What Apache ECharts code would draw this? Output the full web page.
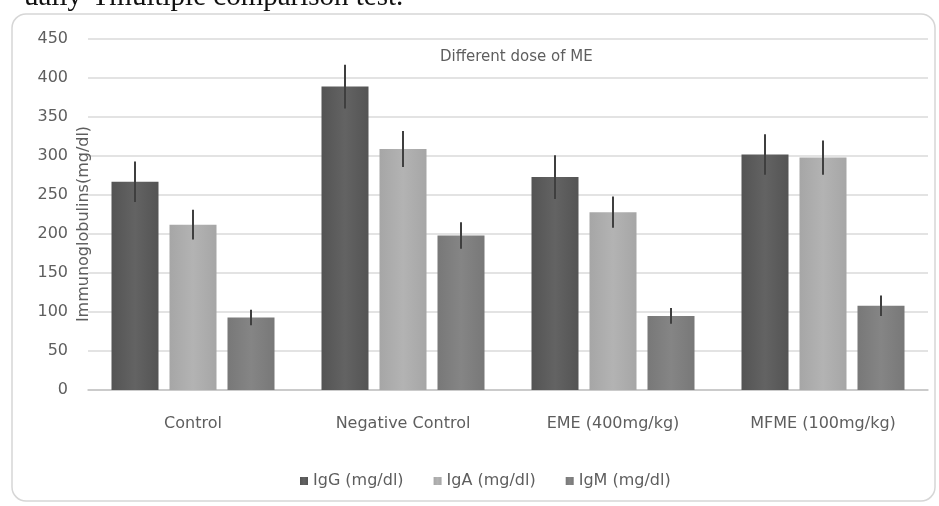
<!DOCTYPE html>
<html>
<head>
<meta charset="utf-8">
<script src="https://cdn.jsdelivr.net/npm/echarts@6/dist/echarts.min.js"></script>
<style>
  html, body { margin: 0; padding: 0; background: #ffffff; }
  #chart { width: 939px; height: 506px; }
</style>
</head>
<body>
<div id="chart"></div>
<script>
// Groups on the x axis
var categories = ['Control', 'Negative Control', 'EME (400mg/kg)', 'MFME (100mg/kg)'];

// Mean immunoglobulin levels (mg/dl)
var igG = [267, 389, 273, 302];
var igA = [212, 309, 228, 298];
var igM = [93, 198, 95, 108];

// Error bar half-lengths (mg/dl)
var igGErr = [26, 28, 28, 26];
var igAErr = [19, 23, 20, 22];
var igMErr = [10, 17, 10, 13];

var seriesNames = ['IgG (mg/dl)', 'IgA (mg/dl)', 'IgM (mg/dl)'];
var yTicks = { min: 0, max: 450, step: 50 };

var BAR_W = 47;
var BAR_GAP = 11;
var FONT = '"DejaVu Sans", "Open Sans", sans-serif';
var TEXT_GREY = '#5e5e5e';

function shade(edge, mid) {
  return new echarts.graphic.LinearGradient(0, 0, 1, 0, [
    { offset: 0, color: edge },
    { offset: 0.5, color: mid },
    { offset: 1, color: edge }
  ]);
}

var fills = [
  shade('#545454', '#636363'),
  shade('#a6a6a6', '#b3b3b3'),
  shade('#787878', '#858585')
];
var legendColors = ['#5c5c5c', '#adadad', '#7f7f7f'];

var values = [igG, igA, igM];
var errors = [igGErr, igAErr, igMErr];

var barSeries = values.map(function (vals, i) {
  return {
    name: seriesNames[i],
    type: 'bar',
    data: vals,
    barWidth: BAR_W,
    barGap: (BAR_GAP / BAR_W * 100) + '%',
    itemStyle: { color: fills[i] },
    emphasis: { disabled: true },
    z: 2
  };
});

// Vertical error lines centred on each bar
var errSeries = values.map(function (vals, i) {
  var data = vals.map(function (v, k) { return [k, v, errors[i][k]]; });
  var offset = (i - 1) * (BAR_W + BAR_GAP);
  return {
    type: 'custom',
    name: seriesNames[i] + ' err',
    data: data,
    z: 5,
    silent: true,
    renderItem: function (params, api) {
      var x = api.value(0), v = api.value(1), e = api.value(2);
      var top = api.coord([x, v + e]);
      var bot = api.coord([x, v - e]);
      var cx = top[0] + offset;
      return {
        type: 'line',
        shape: { x1: cx, y1: top[1], x2: cx, y2: bot[1] },
        style: { stroke: '#3f3f3f', lineWidth: 2 }
      };
    }
  };
});

var chart = echarts.init(document.getElementById('chart'), null, { renderer: 'canvas' });

chart.setOption({
  animation: false,
  backgroundColor: '#ffffff',
  color: legendColors,
  textStyle: { fontFamily: FONT },
  graphic: [
    {
      type: 'text',
      left: 24,
      top: -17,
      style: {
        text: 'ually-Tmultiple comparison test.',
        font: '29px "Liberation Serif", serif',
        fill: '#111111'
      },
      z: 1
    },
    {
      type: 'rect',
      shape: { x: 12, y: 14, width: 923, height: 487, r: 14 },
      style: { fill: 'none', stroke: '#d6d6d6', lineWidth: 1.5 },
      z: 0,
      silent: true
    },
    {
      type: 'text',
      left: 440,
      top: 50,
      style: {
        text: 'Different dose of ME',
        font: '15px ' + FONT,
        fill: TEXT_GREY
      },
      z: 10
    },
    {
      // Value axis title, rotated beside the tick labels
      type: 'text',
      x: 84,
      y: 224,
      rotation: Math.PI / 2,
      style: {
        text: 'Immunoglobulins(mg/dl)',
        font: '16px ' + FONT,
        fill: TEXT_GREY,
        align: 'center',
        verticalAlign: 'middle'
      },
      z: 10
    }
  ],
  grid: { left: 88, right: 11, top: 39, bottom: 116, containLabel: false },
  legend: {
    data: seriesNames,
    bottom: 12,
    left: 295,
    icon: 'rect',
    itemWidth: 8,
    itemHeight: 8,
    itemGap: 30,
    textStyle: { color: TEXT_GREY, fontSize: 16, fontFamily: FONT }
  },
  xAxis: {
    type: 'category',
    data: categories,
    axisLine: { show: true, lineStyle: { color: '#c4c4c4', width: 1.5 } },
    axisTick: { show: false },
    axisLabel: { color: TEXT_GREY, fontSize: 16, margin: 26, fontFamily: FONT }
  },
  yAxis: {
    type: 'value',
    min: yTicks.min,
    max: yTicks.max,
    interval: yTicks.step,
    axisLine: { show: false },
    axisTick: { show: false },
    axisLabel: { color: TEXT_GREY, fontSize: 16, margin: 20, fontFamily: FONT },
    splitLine: { lineStyle: { color: '#dadada', width: 1.5 } }
  },
  series: barSeries.concat(errSeries)
});
</script>
</body>
</html>
